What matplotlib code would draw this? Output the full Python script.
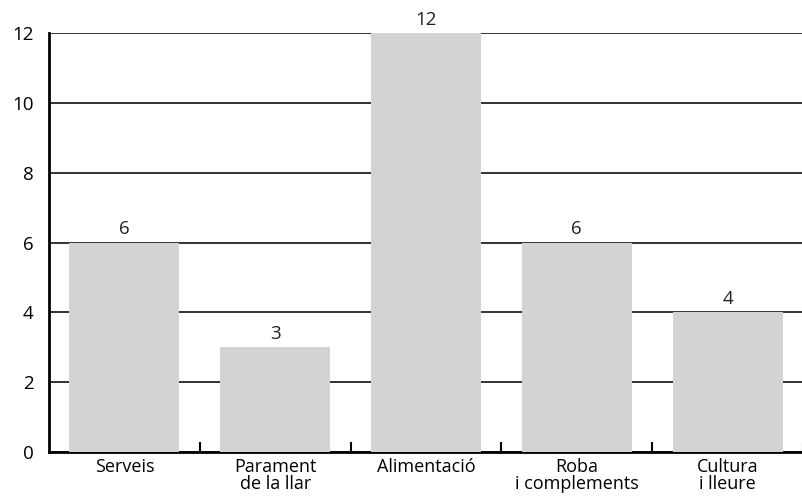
import matplotlib.pyplot as plt
import numpy as np

plt.rcParams['font.family'] = ['Open Sans', 'DejaVu Sans']

categories = ['Serveis', 'Parament\nde la llar', 'Alimentació', 'Roba\ni complements', 'Cultura\ni lleure']
values = [6, 3, 12, 6, 4]
yticks = [0, 2, 4, 6, 8, 10, 12]

fig = plt.figure(figsize=(8.03, 5.04), dpi=100)
ax = fig.add_axes([0.061, 0.103, 0.939, 0.8315])

x = np.arange(len(categories))
ax.bar(x, values, width=0.73, color='#d3d3d3', zorder=3)
for xi, v in zip(x, values):
    ax.text(xi, v + 0.12, str(v), ha='center', va='bottom', fontsize=13.5, color='#222222')

ax.set_xlim(-0.5, len(categories) - 0.5)
ax.set_ylim(0, 12)
ax.set_yticks(yticks)
ax.set_yticklabels([str(t) for t in yticks], fontsize=13.5)
ax.yaxis.grid(True, color='#222222', linewidth=1.3, zorder=1)
ax.set_axisbelow(True)
ax.tick_params(axis='y', length=0, pad=11)

ax.set_xticks(x)
ax.set_xticklabels(categories, fontsize=13, linespacing=0.92)
ax.tick_params(axis='x', which='major', length=0, pad=4)
ax.set_xticks(np.arange(0.5, len(categories), 1.0), minor=True)
ax.tick_params(axis='x', which='minor', direction='in', length=7, width=1.5, color='black')

for s in ['top', 'right']:
    ax.spines[s].set_visible(False)
ax.spines['left'].set_linewidth(2)
ax.spines['bottom'].set_linewidth(2)
ax.spines['bottom'].set_zorder(2)

fig.savefig('out.png', dpi=100)
